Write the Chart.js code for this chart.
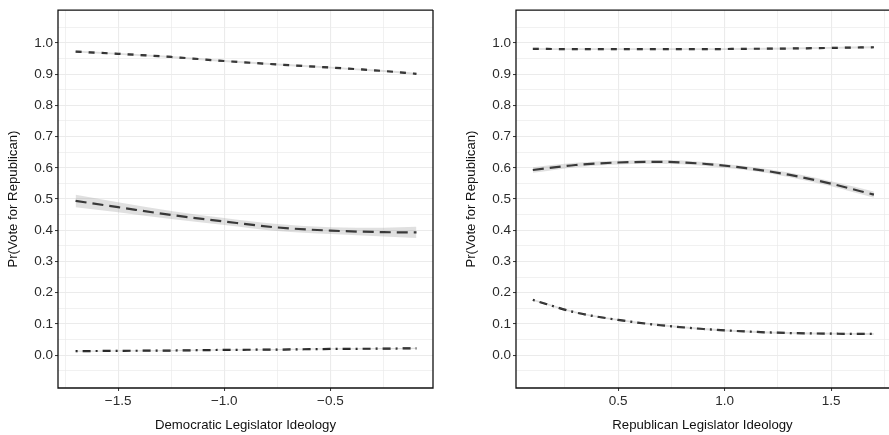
<!DOCTYPE html>
<html>
<head>
<meta charset="utf-8">
<script src="https://cdn.jsdelivr.net/npm/chart.js@4.4.1/dist/chart.umd.min.js"></script>
<style>
  body { margin: 0; background: #fff; }
  #wrap { position: relative; width: 889px; height: 435px; }
  .panel { position: absolute; top: 0; }
</style>
</head>
<body>
<div id="wrap">
  <div class="panel" style="left:0px"><canvas id="chartDem" width="444" height="435"></canvas></div>
  <div class="panel" style="left:444px"><canvas id="chartRep" width="445" height="435"></canvas></div>
</div>
<script>
// --- data ---
var demX    = [-1.70, -1.5, -1.25, -1.0, -0.75, -0.5, -0.25, -0.095];
var demHigh = [0.972, 0.965, 0.955, 0.942, 0.931, 0.921, 0.910, 0.901];
var demMid  = [0.494, 0.474, 0.449, 0.428, 0.409, 0.399, 0.394, 0.393];
var demMidCI = [0.020, 0.016, 0.013, 0.011, 0.011, 0.011, 0.014, 0.018];
var demLow  = [0.013, 0.014, 0.015, 0.017, 0.018, 0.020, 0.021, 0.022];

var repX    = [0.1, 0.3, 0.5, 0.7, 0.9, 1.1, 1.3, 1.5, 1.7];
var repHigh = [0.981, 0.980, 0.980, 0.980, 0.980, 0.981, 0.982, 0.984, 0.986];
var repMid  = [0.593, 0.609, 0.617, 0.619, 0.613, 0.599, 0.578, 0.549, 0.514];
var repMidCI = [0.009, 0.007, 0.006, 0.006, 0.006, 0.006, 0.007, 0.008, 0.010];
var repLow  = [0.177, 0.137, 0.113, 0.096, 0.084, 0.076, 0.071, 0.069, 0.068];

var yMajor = [0.0, 0.1, 0.2, 0.3, 0.4, 0.5, 0.6, 0.7, 0.8, 0.9, 1.0];
var yMinor = [-0.05, 0.05, 0.15, 0.25, 0.35, 0.45, 0.55, 0.65, 0.75, 0.85, 0.95, 1.05];
var demXMajor = [-1.5, -1.0, -0.5];
var demXMinor = [-1.75, -1.25, -0.75, -0.25];
var repXMajor = [0.5, 1.0, 1.5];
var repXMinor = [0.25, 0.75, 1.25, 1.75];

var Y_TITLE = 'Pr(Vote for Republican)';

var INK = '#111';
var GRID = '#ebebeb';
var RIBBON = 'rgba(153,153,153,0.3)';

var DASHED = [6, 7];
var LONGDASH = [11, 6];
var DOTDASH = [2, 5, 8, 5];

function pts(xs, ys) {
  return xs.map(function (x, i) { return {x: x, y: ys[i]}; });
}
function shift(ys, d) {
  return ys.map(function (v, i) { return v + (Array.isArray(d) ? d[i] : d); });
}
function isMajor(list, v) {
  return list.some(function (m) { return Math.abs(m - v) < 1e-9; });
}
function fmt(v) {
  return v.toFixed(1).replace('-', '\u2212');
}

function series(xs, ys, ci, dash) {
  return [
    {data: pts(xs, shift(ys, ci.map(function (c) { return -c; }))), borderWidth: 0, pointRadius: 0, fill: false,
     cubicInterpolationMode: 'monotone'},
    {data: pts(xs, shift(ys, ci)), borderWidth: 0, pointRadius: 0, fill: '-1', backgroundColor: RIBBON,
     cubicInterpolationMode: 'monotone'},
    {data: pts(xs, ys), borderColor: INK, borderWidth: 2.2, borderDash: dash, borderCapStyle: 'butt',
     pointRadius: 0, fill: false, cubicInterpolationMode: 'monotone'}
  ];
}

// panel border drawn over the plot
var panelBorder = {
  id: 'panelBorder',
  afterDatasetsDraw: function (chart, args, opts) {
    var a = chart.chartArea, ctx = chart.ctx;
    ctx.save();
    ctx.strokeStyle = INK;
    ctx.lineWidth = 1.3;
    ctx.beginPath();
    ctx.moveTo(a.right, a.top); ctx.lineTo(a.left, a.top);
    ctx.lineTo(a.left, a.bottom); ctx.lineTo(a.right, a.bottom);
    if (opts.closed) { ctx.lineTo(a.right, a.top); }
    ctx.stroke();
    ctx.restore();
  }
};

function makeChart(id, datasets, xMin, xMax, xMajor, xMinor, xTitle, yWidth, padRight, closed) {
  var xTicks = xMinor.concat(xMajor).sort(function (a, b) { return a - b; });
  var yTicks = yMinor.concat(yMajor).sort(function (a, b) { return a - b; });

  function gridOpts(major) {
    return {
      color: GRID,
      lineWidth: function (c) { return c.tick && isMajor(major, c.tick.value) ? 1.1 : 0.7; },
      tickColor: function (c) { return c.tick && isMajor(major, c.tick.value) ? '#333' : 'rgba(0,0,0,0)'; },
      tickLength: 3,
      tickWidth: 1
    };
  }

  return new Chart(document.getElementById(id), {
    type: 'line',
    data: {datasets: datasets},
    plugins: [panelBorder],
    options: {
      responsive: false,
      animation: false,
      devicePixelRatio: 1,
      layout: {padding: {top: 6, right: padRight, left: 0, bottom: 0}},
      plugins: {legend: {display: false}, tooltip: {enabled: false}, panelBorder: {closed: closed}},
      scales: {
        x: {
          type: 'linear', min: xMin, max: xMax,
          afterBuildTicks: function (s) { s.ticks = xTicks.map(function (v) { return {value: v}; }); },
          afterFit: function (s) { s.height = 47; },
          grid: gridOpts(xMajor),
          border: {display: false},
          ticks: {
            autoSkip: false, maxRotation: 0, padding: 2,
            color: '#2b2b2b', font: {family: 'Liberation Sans, Arial, sans-serif', size: 13.5},
            callback: function (v) { return isMajor(xMajor, v) ? fmt(v) : ''; }
          },
          title: {display: true, text: xTitle, color: INK, padding: {top: 0, bottom: 2},
                  font: {family: 'Liberation Sans, Arial, sans-serif', size: 13.2}}
        },
        y: {
          type: 'linear', min: -0.105, max: 1.105,
          afterBuildTicks: function (s) { s.ticks = yTicks.map(function (v) { return {value: v}; }); },
          afterFit: function (s) { s.width = yWidth; },
          grid: gridOpts(yMajor),
          border: {display: false},
          ticks: {
            autoSkip: false, padding: 2,
            color: '#2b2b2b', font: {family: 'Liberation Sans, Arial, sans-serif', size: 13.5},
            callback: function (v) { return isMajor(yMajor, v) ? fmt(v) : ''; }
          },
          title: {display: true, text: Y_TITLE, color: INK, padding: {top: yWidth - 53, bottom: 0},
                  font: {family: 'Liberation Sans, Arial, sans-serif', size: 13.2}}
        }
      }
    }
  });
}

var demSets = []
  .concat(series(demX, demHigh, demX.map(function () { return 0.003; }), DASHED))
  .concat(series(demX, demMid, demMidCI, LONGDASH))
  .concat(series(demX, demLow, demX.map(function () { return 0.002; }), DOTDASH));

var repSets = []
  .concat(series(repX, repHigh, repX.map(function () { return 0.003; }), DASHED))
  .concat(series(repX, repMid, repMidCI, LONGDASH))
  .concat(series(repX, repLow, repX.map(function () { return 0.003; }), DOTDASH));

makeChart('chartDem', demSets, -1.783, -0.017, demXMajor, demXMinor, 'Democratic Legislator Ideology', 58, 11, true);
makeChart('chartRep', repSets, 0.021, 1.771, repXMajor, repXMinor, 'Republican Legislator Ideology', 72, 0, false);
</script>
</body>
</html>
